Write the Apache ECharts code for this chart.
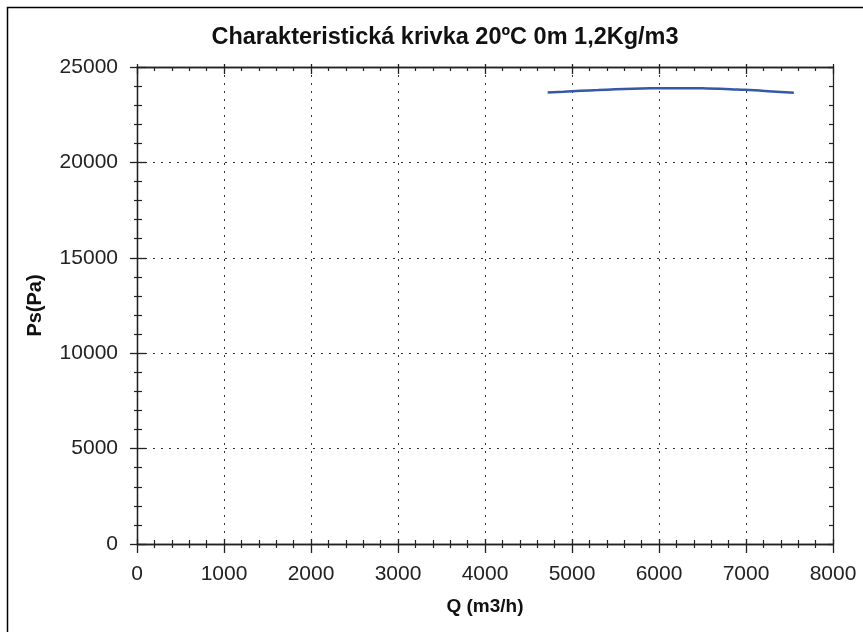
<!DOCTYPE html>
<html>
<head>
<meta charset="utf-8">
<script src="https://cdn.jsdelivr.net/npm/echarts@6/dist/echarts.min.js"></script>
<style>
html,body{margin:0;padding:0;background:#fff;}
#chart{width:863px;height:632px;}
</style>
</head>
<body>
<div id="chart"></div>
<script>
var titleText = 'Charakteristická krivka 20ºC 0m 1,2Kg/m3';
var xName = 'Q (m3/h)';
var yName = 'Ps(Pa)';
var qValues = [4720, 4900, 5100, 5300, 5500, 5700, 5900, 6100, 6300, 6500, 6700, 6900, 7100, 7300, 7550];
var psValues = [23660, 23700, 23750, 23790, 23830, 23860, 23880, 23890, 23890, 23880, 23860, 23820, 23780, 23720, 23650];

var FONT = '"Liberation Sans", Arial, sans-serif';
var chart = echarts.init(document.getElementById('chart'), null, {renderer: 'canvas'});

function plain(v) { return String(v); }

function xAx(extra) {
  var base = {
    type: 'value', min: 0, max: 8000, interval: 1000,
    axisLine: {show: true, onZero: false, lineStyle: {color: '#222', width: 1.3}},
    axisLabel: {show: false},
    splitLine: {show: false},
    minorSplitLine: {show: false}
  };
  return Object.assign(base, extra);
}
function yAx(extra) {
  var base = {
    type: 'value', min: 0, max: 25000, interval: 5000,
    axisLine: {show: true, onZero: false, lineStyle: {color: '#222', width: 1.3}},
    axisLabel: {show: false},
    splitLine: {show: false},
    minorSplitLine: {show: false}
  };
  return Object.assign(base, extra);
}

var data = qValues.map(function (q, i) { return [q, psValues[i]]; });

chart.setOption({
  animation: false,
  backgroundColor: '#fff',
  title: {
    text: titleText, left: 440, top: 21, textAlign: 'center',
    textStyle: {fontFamily: FONT, fontSize: 23.5, fontWeight: 'bold', color: '#111'}
  },
  grid: {left: 137, right: 30, top: 67, bottom: 88, containLabel: false},
  xAxis: [
    xAx({
      position: 'bottom',
      name: xName, nameLocation: 'middle', nameGap: 53,
      nameTextStyle: {fontFamily: FONT, fontSize: 19, fontWeight: 'bold', color: '#111'},
      axisTick: {show: true, inside: false, length: 9, lineStyle: {color: '#222', width: 1.3}},
      minorTick: {show: true, splitNumber: 5, length: 4, lineStyle: {color: '#222', width: 1.2}},
      axisLabel: {show: true, margin: 20, fontFamily: FONT, fontSize: 21, color: '#222', formatter: plain},
      splitLine: {show: true, lineStyle: {color: '#333', type: [2, 6], width: 1}}
    }),
    xAx({
      position: 'bottom',
      axisTick: {show: true, inside: true, length: 5, lineStyle: {color: '#222', width: 1.3}},
      minorTick: {show: true, splitNumber: 5, length: 4, lineStyle: {color: '#222', width: 1.2}}
    }),
    xAx({
      position: 'top',
      axisTick: {show: true, inside: true, length: 7, lineStyle: {color: '#222', width: 1.3}},
      minorTick: {show: true, splitNumber: 5, length: 4, lineStyle: {color: '#222', width: 1.2}}
    }),
    xAx({
      position: 'top',
      axisTick: {show: true, inside: false, length: 3, lineStyle: {color: '#222', width: 1.3}}
    })
  ],
  yAxis: [
    yAx({
      position: 'left',
      name: yName, nameLocation: 'middle', nameGap: 92, nameRotate: 90,
      nameTextStyle: {fontFamily: FONT, fontSize: 20, fontWeight: 'bold', color: '#111'},
      axisTick: {show: true, inside: false, length: 7, lineStyle: {color: '#222', width: 1.3}},
      minorTick: {show: true, splitNumber: 5, length: 3, lineStyle: {color: '#222', width: 1.2}},
      axisLabel: {show: true, margin: 19, fontFamily: FONT, fontSize: 21, color: '#222', formatter: plain},
      splitLine: {show: true, lineStyle: {color: '#333', type: [2, 6], width: 1}}
    }),
    yAx({
      position: 'left',
      axisTick: {show: true, inside: true, length: 9, lineStyle: {color: '#222', width: 1.3}},
      minorTick: {show: true, splitNumber: 5, length: 5, lineStyle: {color: '#222', width: 1.2}}
    }),
    yAx({
      position: 'right',
      axisTick: {show: true, inside: true, length: 5, lineStyle: {color: '#222', width: 1.3}},
      minorTick: {show: true, splitNumber: 5, length: 4, lineStyle: {color: '#222', width: 1.2}}
    })
  ],
  graphic: [{
    type: 'rect', silent: true, z: 100,
    shape: {x: 7.5, y: 7.5, width: 1000, height: 1000},
    style: {fill: 'none', stroke: '#000', lineWidth: 1.5}
  }],
  series: [{
    type: 'line', xAxisIndex: 0, yAxisIndex: 0,
    data: data, showSymbol: false, symbol: 'none', smooth: true,
    lineStyle: {color: '#3558a8', width: 2.5},
    z: 5
  }]
});
</script>
</body>
</html>
